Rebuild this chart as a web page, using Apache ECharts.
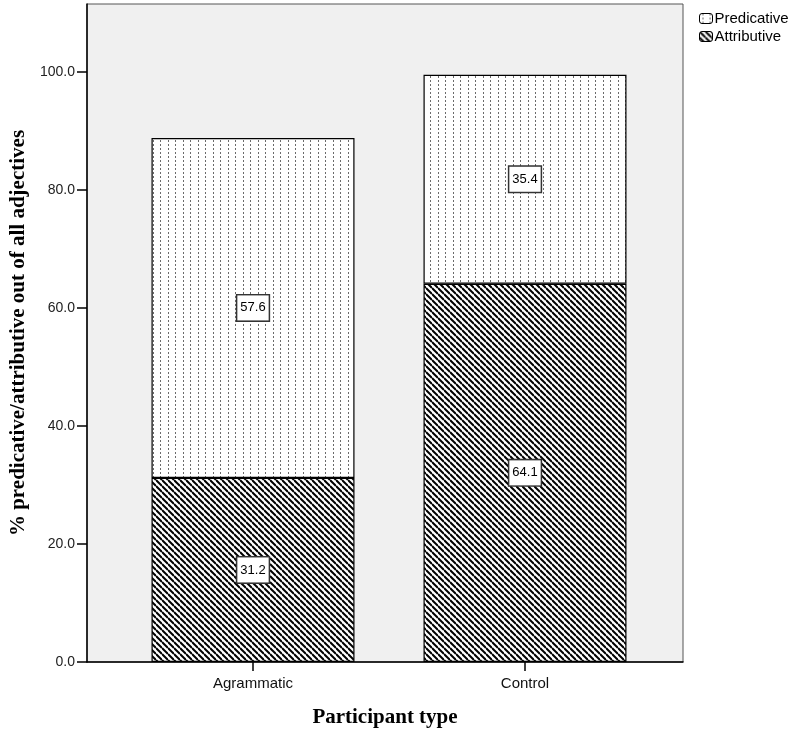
<!DOCTYPE html>
<html>
<head>
<meta charset="utf-8">
<script src="https://cdn.jsdelivr.net/npm/echarts@6/dist/echarts.min.js"></script>
<style>
  html, body { margin: 0; padding: 0; background: #fff; }
  #chart { width: 797px; height: 734px; }
</style>
</head>
<body>
<div id="chart"></div>
<script>
// data
const categories = ['Agrammatic', 'Control'];
const attributive = [31.2, 64.1];
const predicative = [57.6, 35.4];
const yTicks = [0, 20, 40, 60, 80, 100];
const yMax = 111.5;

// hatch fill for the attributive part: black "\" lines on white
function hatchPattern() {
    const s = 6;
    const c = document.createElement('canvas');
    c.width = s;
    c.height = s;
    const ctx = c.getContext('2d');
    ctx.fillStyle = '#fff';
    ctx.fillRect(0, 0, s, s);
    ctx.strokeStyle = '#000';
    ctx.lineWidth = 2;
    for (let k = -1; k <= 1; k++) {
        ctx.beginPath();
        ctx.moveTo(0, k * s);
        ctx.lineTo(s, s + k * s);
        ctx.stroke();
    }
    return c;
}

// dotted vertical lines for the predicative part
function dotPattern() {
    const c = document.createElement('canvas');
    c.width = 15;
    c.height = 4;
    const ctx = c.getContext('2d');
    ctx.fillStyle = '#fff';
    ctx.fillRect(0, 0, 15, 4);
    ctx.fillStyle = '#6a6a6a';
    ctx.fillRect(3, 0, 1, 2);
    ctx.fillRect(10, 0, 1, 2);
    return c;
}

const sans = 'Liberation Sans';
const serif = 'Liberation Serif';
const titleFont = { fontFamily: serif, fontWeight: 'bold', fontSize: 21, color: '#000' };

const labelStyle = {
    show: true,
    position: 'inside',
    formatter: p => p.value.toFixed(1),
    fontFamily: sans,
    fontSize: 13,
    color: '#000',
    backgroundColor: '#fff',
    borderColor: '#333',
    borderWidth: 1.5,
    padding: [7, 3, 5, 3]
};

const chart = echarts.init(document.getElementById('chart'));
chart.setOption({
    animation: false,
    backgroundColor: '#fff',
    grid: [
        // grey frame with the axis lines
        {
            left: 87, right: 114, top: 4, bottom: 72,
            show: true,
            backgroundColor: '#f0f0f0',
            borderColor: '#555',
            borderWidth: 1
        },
        // inner grid holding the bars
        { left: 117, right: 136, top: 4, bottom: 72 }
    ],
    legend: {
        data: ['Predicative', 'Attributive'],
        orient: 'vertical',
        left: 694,
        top: 6,
        itemWidth: 13,
        itemHeight: 10,
        itemGap: 3,
        itemStyle: { borderColor: '#000', borderWidth: 1 },
        textStyle: { fontFamily: sans, fontSize: 15, color: '#000', padding: [0, 0, 0, -3] }
    },
    xAxis: [
        {
            gridIndex: 0,
            type: 'value',
            min: 0,
            max: 1,
            name: 'Participant type',
            nameLocation: 'middle',
            nameGap: 45,
            nameTextStyle: titleFont,
            axisLine: { show: true, onZero: false, lineStyle: { color: '#000', width: 1.5 } },
            axisTick: { show: false },
            axisLabel: { show: false },
            splitLine: { show: false }
        },
        {
            gridIndex: 1,
            type: 'category',
            data: categories,
            axisLine: { show: false },
            axisTick: { show: true, alignWithLabel: true, length: 9, lineStyle: { color: '#000', width: 1.5 } },
            axisLabel: { fontFamily: sans, fontSize: 15, color: '#111', margin: 14 },
            splitLine: { show: false }
        }
    ],
    yAxis: [
        {
            gridIndex: 0,
            type: 'value',
            min: 0,
            max: yMax,
            interval: 20,
            name: '% predicative/attributive out of all adjectives',
            nameLocation: 'middle',
            nameGap: 57,
            nameTextStyle: titleFont,
            axisLine: { show: true, onZero: false, lineStyle: { color: '#000', width: 1.5 } },
            axisTick: { show: true, customValues: yTicks, length: 10, lineStyle: { color: '#000', width: 1.5 } },
            axisLabel: {
                customValues: yTicks,
                formatter: v => v.toFixed(1),
                fontFamily: sans,
                fontSize: 14,
                color: '#222',
                margin: 12
            },
            splitLine: { show: false }
        },
        {
            gridIndex: 1,
            type: 'value',
            min: 0,
            max: yMax,
            show: false
        }
    ],
    series: [
        {
            name: 'Attributive',
            type: 'bar',
            xAxisIndex: 1,
            yAxisIndex: 1,
            stack: 'total',
            barWidth: 203,
            data: attributive,
            itemStyle: { color: { image: hatchPattern(), repeat: 'repeat' }, borderColor: '#000', borderWidth: 1.2 },
            label: labelStyle
        },
        {
            name: 'Predicative',
            type: 'bar',
            xAxisIndex: 1,
            yAxisIndex: 1,
            stack: 'total',
            barWidth: 203,
            data: predicative,
            itemStyle: { color: { image: dotPattern(), repeat: 'repeat' }, borderColor: '#000', borderWidth: 1.2 },
            label: labelStyle
        }
    ]
});
</script>
</body>
</html>
